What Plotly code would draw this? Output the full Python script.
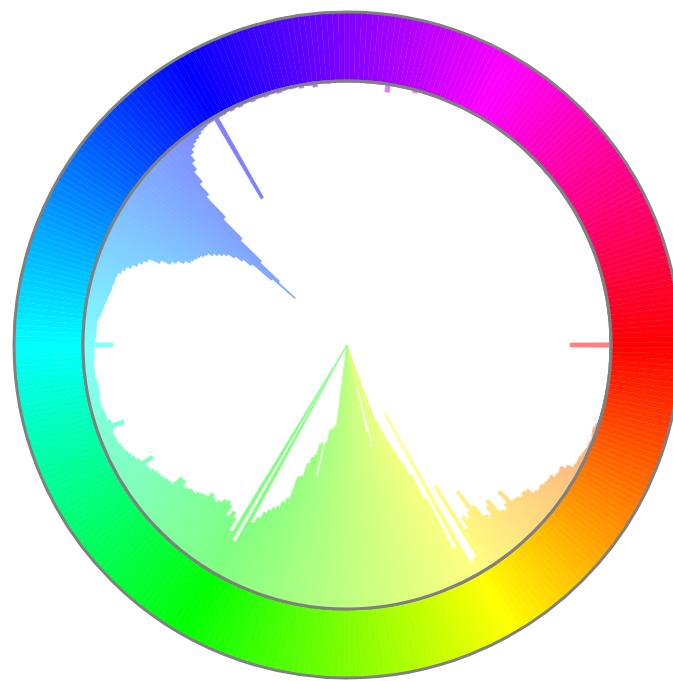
import colorsys
import plotly.graph_objects as go

# hue bins (degrees) and pixel counts per bin
hue_bins = list(range(360))
hue_counts = [
    41, 0, 0, 0, 0, 0, 0, 0, 0, 0,
    0, 0, 0, 0, 0, 0, 0, 1, 3, 4,
    3, 2, 3, 3, 4, 5, 6, 6, 7, 13,
    18, 17, 18, 22, 22, 23, 25, 24, 26, 33,
    35, 33, 36, 37, 53, 40, 35, 38, 55, 50,
    42, 45, 60, 81, 58, 52, 57, 45, 98, 16,
    14, 187, 34, 92, 120, 134, 148, 160, 172, 183,
    265, 265, 265, 265, 265, 265, 160, 175, 265, 265,
    265, 265, 265, 265, 265, 265, 265, 240, 265, 265,
    265, 265, 265, 265, 265, 265, 225, 265, 183, 180,
    179, 178, 165, 130, 164, 162, 150, 147, 140, 126,
    124, 100, 95, 89, 86, 82, 78, 70, 63, 265,
    38, 265, 45, 58, 63, 56, 66, 69, 67, 63,
    60, 62, 64, 58, 57, 55, 52, 52, 50, 48,
    53, 52, 41, 40, 38, 37, 36, 34, 31, 30,
    40, 27, 24, 22, 20, 18, 17, 15, 15, 14,
    15, 28, 16, 13, 13, 12, 11, 11, 11, 12,
    12, 12, 11, 10, 10, 10, 10, 11, 11, 11,
    30, 12, 13, 13, 13, 13, 14, 16, 17, 18,
    19, 20, 21, 22, 22, 23, 23, 24, 27, 30,
    35, 40, 44, 48, 60, 70, 75, 82, 87, 89,
    91, 93, 96, 98, 103, 107, 111, 115, 122, 130,
    140, 165, 195, 172, 145, 115, 88, 60, 46, 33,
    25, 18, 14, 11, 9, 7, 5, 4, 3, 3,
    95, 3, 3, 2, 3, 2, 3, 2, 2, 3,
    2, 2, 3, 2, 2, 3, 2, 1, 2, 1,
    3, 1, 2, 4, 1, 1, 2, 1, 0, 1,
    1, 0, 1, 0, 1, 0, 1, 0, 1, 8,
    1, 0, 0, 0, 0, 3, 0, 0, 0, 0,
    0, 0, 0, 0, 0, 0, 0, 0, 0, 0,
    0, 0, 0, 0, 0, 0, 0, 0, 0, 0,
    0, 0, 0, 0, 0, 0, 0, 0, 0, 2,
    0, 0, 0, 0, 0, 0, 0, 0, 0, 0,
    0, 0, 0, 0, 0, 0, 0, 0, 0, 0,
    0, 0, 0, 0, 0, 0, 0, 0, 0, 0,
    0, 0, 0, 0, 0, 0, 0, 0, 0, 0,
]
count_max = 265
ring_values = [1] * 360


def hsv_color(h, s):
    r, g, b = colorsys.hsv_to_rgb(h / 360.0, s, 1.0)
    return "rgb(%d,%d,%d)" % (round(r * 255), round(g * 255), round(b * 255))


ring_colors = [hsv_color(h, 1.0) for h in hue_bins]
hist_colors = [hsv_color(h, 0.5) for h in hue_bins]

fig = go.Figure()
fig.add_trace(go.Barpolar(
    r=ring_values, theta=hue_bins, width=1, subplot="polar",
    marker=dict(color=ring_colors, line=dict(width=0.4, color=ring_colors)),
    hoverinfo="skip",
))
fig.add_trace(go.Barpolar(
    r=hue_counts, theta=hue_bins, width=1, subplot="polar2",
    # outline in the fill colour hides the seams between neighbouring bins
    marker=dict(color=hist_colors, line=dict(width=0.6, color=hist_colors)),
    hovertemplate="hue %{theta}<br>count %{r}<extra></extra>",
))

inner = 264 / 666
angular_common = dict(direction="clockwise", rotation=0, showticklabels=False,
                      ticks="", showgrid=False, showline=True,
                      linecolor="gray", linewidth=3, layer="above traces")

fig.update_layout(
    width=680, height=681,
    margin=dict(l=14, r=0, t=12, b=3),
    paper_bgcolor="white",
    showlegend=False,
    polar=dict(
        domain=dict(x=[0, 1], y=[0, 1]),
        hole=264 / 333,
        bgcolor="white",
        radialaxis=dict(visible=False, range=[0, 1]),
        angularaxis=angular_common,
    ),
    polar2=dict(
        domain=dict(x=[0.5 - inner, 0.5 + inner], y=[0.5 - inner, 0.5 + inner]),
        bgcolor="rgba(0,0,0,0)",
        radialaxis=dict(visible=False, range=[count_max, 0]),
        angularaxis=angular_common,
    ),
)

# the wheel is wider than the window: clip it at the right edge like the original
clip_js = ("document.body.style.margin='0';"
           "var d=document.getElementById('{plot_id}');"
           "d.style.width='673px';d.style.height='681px';d.style.overflow='hidden';")
fig.write_html("out.html", post_script=clip_js, config={"displayModeBar": False})
